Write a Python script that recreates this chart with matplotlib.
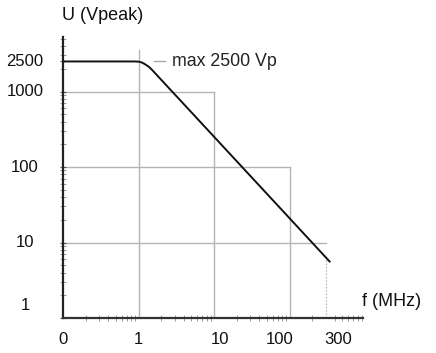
import numpy as np
import matplotlib
matplotlib.use("Agg")
import matplotlib.pyplot as plt
from matplotlib import transforms
from matplotlib.ticker import LogLocator, NullFormatter

plt.rcParams['font.family'] = ['Liberation Sans', 'DejaVu Sans']

# ---- data ----
freq_mhz = [0.1, 0.9, 1.0, 1.1, 1.2, 1.35, 1.5, 10, 100, 340]
u_vpeak = [2500, 2500, 2485, 2430, 2320, 2150, 1950, 252, 21, 5.6]

xtick_vals = [0.1, 1, 10, 100, 300]
xtick_labels = ['0', '1', '10', '100', '300']
ytick_vals = [1, 10, 100, 1000, 2500]
ytick_labels = ['1', '10', '100', '1000', '2500']

# reference grid segments
hgrid_vals = [1000, 100, 10]
hgrid_ends = [10, 100, 300]
vgrid_vals = [1, 10, 100]
vgrid_tops = [3500, 1000, 100]
dotted_x = 300
dotted_top = 6.3

annot_text = 'max 2500 Vp'

# ---- figure ----
W, H = 436, 353
fig = plt.figure(figsize=(W / 100, H / 100), dpi=100)
ax = fig.add_axes([63 / W, 35 / H, 300 / W, 281 / H])
ax.set_xscale('log')
ax.set_yscale('log')
dec = 75.5
ax.set_xlim(0.1, 10 ** (-1 + 300 / dec))
ax.set_ylim(1, 10 ** (281 / dec))

gcol = '#b4b4b4'
for v, e in zip(hgrid_vals, hgrid_ends):
    ax.plot([xtick_vals[0], e], [v, v], color=gcol, lw=1.0, zorder=1)
for v, t in zip(vgrid_vals, vgrid_tops):
    ax.plot([v, v], [ytick_vals[0], t], color=gcol, lw=1.0, zorder=1)
ax.plot([dotted_x, dotted_x], [ytick_vals[0], dotted_top], color=gcol, lw=0.8,
        ls=(0, (1.5, 1.5)), zorder=1)

ax.plot(freq_mhz, u_vpeak, color='#111111', lw=1.4, zorder=3)

# leader for annotation
ax.plot([1.6, 2.25], [2500, 2500], color='#aaaaaa', lw=1.0, zorder=2)
ax.text(2.75, 2500, annot_text, fontsize=12.8, va='center', ha='left', color='#222222')

for s in ['top', 'right']:
    ax.spines[s].set_visible(False)
ax.spines['left'].set_linewidth(1.6)
ax.spines['bottom'].set_linewidth(1.6)
ax.spines['left'].set_color('#222222')
ax.spines['bottom'].set_color('#333333')

ax.set_xticks(xtick_vals)
ax.set_xticklabels([''] * len(xtick_vals))
ax.set_yticks(ytick_vals)
ax.set_yticklabels([''] * len(ytick_vals))
ax.xaxis.set_minor_locator(LogLocator(base=10, subs=np.arange(2, 10), numticks=20))
ax.yaxis.set_minor_locator(LogLocator(base=10, subs=np.arange(2, 10), numticks=20))
ax.xaxis.set_minor_formatter(NullFormatter())
ax.yaxis.set_minor_formatter(NullFormatter())
ax.tick_params(axis='both', which='major', direction='inout', length=5, width=0.8,
               colors='#555555')
ax.tick_params(axis='both', which='minor', direction='inout', length=4, width=0.7,
               colors='#999999')
ax.tick_params(axis='x', which='major', length=0)

tick_fs = 12
xoff = [0, 0, 6, -10, 13]
for v, lab, dx in zip(xtick_vals, xtick_labels, xoff):
    tr = transforms.offset_copy(ax.get_xaxis_transform(), fig=fig, x=dx, y=-22, units='dots')
    ax.text(v, 0, lab, transform=tr, ha='center', va='center', fontsize=tick_fs, color='#111111')

yoff = [13, 0, 0, 0, 0]
for v, lab, dy in zip(ytick_vals, ytick_labels, yoff):
    tr = transforms.offset_copy(ax.get_yaxis_transform(), fig=fig, x=-38, y=dy, units='dots')
    ax.text(0, v, lab, transform=tr, ha='center', va='center', fontsize=tick_fs, color='#111111')

fig.text(62 / W, 1 - 15 / H, 'U (Vpeak)', ha='left', va='center', fontsize=13, color='#111111')
fig.text(362 / W, 1 - 301 / H, 'f (MHz)', ha='left', va='center', fontsize=13, color='#111111')

fig.savefig('out.png', dpi=100)
